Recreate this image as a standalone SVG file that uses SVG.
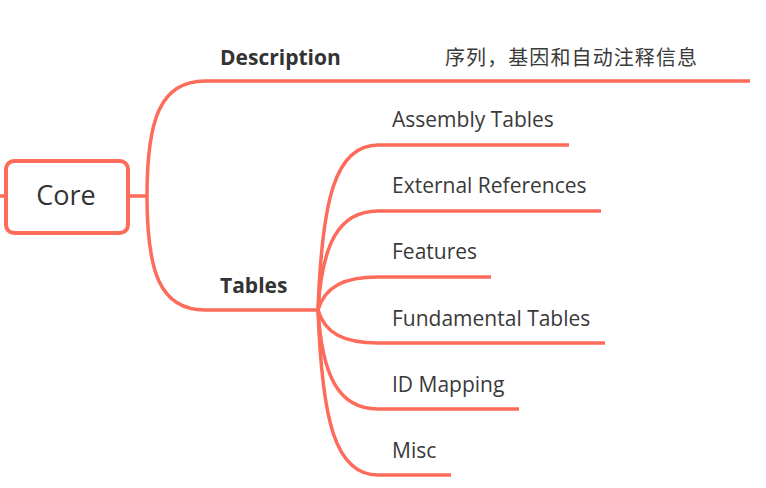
<svg xmlns="http://www.w3.org/2000/svg" width="766" height="488" viewBox="0 0 766 488">
<style>
.c{fill:none;stroke:#fd6c5a;stroke-width:3.5;stroke-linecap:butt}
.t{font-family:"Open Sans","Noto Sans",sans-serif;font-size:21px;fill:#3a3a3a}
.b{font-family:"Open Sans","Noto Sans",sans-serif;font-size:21px;font-weight:bold;fill:#333}
.cjk{font-family:"Noto Sans CJK SC",sans-serif;font-size:20px;fill:#3a3a3a}
</style>
<rect width="766" height="488" fill="#fff"/>
<g id="connectors">
<path class="c" d="M0,196 H6"/>
<path class="c" d="M128,196 H147"/>
<path class="c" d="M147,196 C147,120 160,81 205,81 H750"/>
<path class="c" d="M147,196 C147,272 160,310 205,310 H318"/>
<path class="c" d="M318,310 C322,200 335,145 378,145 H569"/>
<path class="c" d="M318,310 C322,245 338,211 378,211 H601"/>
<path class="c" d="M318,310 C325,286 345,277 378,277 H491"/>
<path class="c" d="M318,310 C325,334 345,343 378,343 H605"/>
<path class="c" d="M318,310 C322,375 338,409 378,409 H519"/>
<path class="c" d="M318,310 C322,420 335,475 378,475 H451"/>
</g>
<g id="core">
<rect x="6" y="161" width="122" height="72" rx="8" fill="#fff" stroke="#fd6c5a" stroke-width="4"/>
<text x="66" y="205" text-anchor="middle" style="font-family:'Open Sans','Noto Sans',sans-serif;font-size:27px;fill:#333">Core</text>
</g>
<g id="description"><text class="b" x="220" y="65">Description</text></g>
<g id="description-value"><text class="cjk" x="445" y="65" textLength="252">序列，基因和自动注释信息</text></g>
<g id="tables"><text class="b" x="220" y="293">Tables</text></g>
<g id="assembly-tables"><text class="t" x="392" y="127">Assembly Tables</text></g>
<g id="external-references"><text class="t" x="392" y="193">External References</text></g>
<g id="features"><text class="t" x="392" y="259">Features</text></g>
<g id="fundamental-tables"><text class="t" x="392" y="326">Fundamental Tables</text></g>
<g id="id-mapping"><text class="t" x="392" y="392">ID Mapping</text></g>
<g id="misc"><text class="t" x="392" y="458">Misc</text></g>
</svg>
